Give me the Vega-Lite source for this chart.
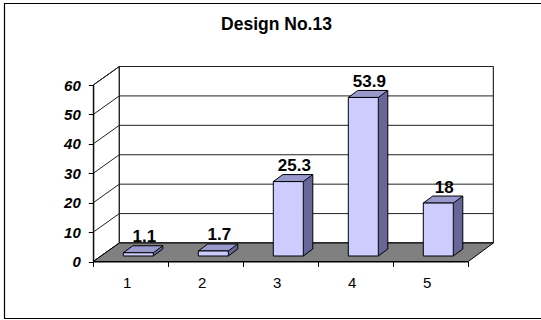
{
  "$schema": "https://vega.github.io/schema/vega-lite/v6.json",
  "width": 537,
  "height": 316,
  "autosize": {"type": "none"},
  "padding": {"left": 4, "top": 3, "right": 0, "bottom": 1},
  "background": "white",
  "view": {"stroke": null, "fill": "white"},
  "config": {"font": "Liberation Sans"},
  "title": {"text": "Design No.13", "font": "Liberation Sans", "fontSize": 17.5, "fontWeight": "bold", "color": "black", "anchor": "middle", "frame": "group", "baseline": "alphabetic", "offset": -46, "dx": 4},
  "datasets": {
    "bars": [
      {"cat": "1", "value": 1.1},
      {"cat": "2", "value": 1.7},
      {"cat": "3", "value": 25.3},
      {"cat": "4", "value": 53.9},
      {"cat": "5", "value": 18}
    ],
    "ticks": [{"t": 0}, {"t": 10}, {"t": 20}, {"t": 30}, {"t": 40}, {"t": 50}, {"t": 60}],
    "one": [{"k": 1}]
  },
  "layer": [
    {
      "data": {"name": "one"},
      "mark": {"type": "point", "shape": "M414,-258L-126.3,-258L-126.3,57L414,57", "size": 4, "filled": false, "stroke": "black", "strokeWidth": 1.2, "opacity": 1},
      "encoding": {
        "x": {"datum": "1", "type": "nominal", "title": null},
        "y": {"datum": 0, "type": "quantitative", "title": null}
      }
    },
    {
      "data": {"name": "one"},
      "mark": {"type": "point", "shape": "M-37.5,0L-37.5,-176.5L-11.5,-195L-11.5,-18.5Z", "size": 4, "filled": true, "fill": "white", "stroke": "black", "strokeWidth": 1, "opacity": 1},
      "encoding": {
        "x": {"datum": "1", "type": "nominal", "title": null},
        "y": {"datum": 0, "type": "quantitative", "title": null}
      }
    },
    {
      "data": {"name": "one"},
      "mark": {"type": "point", "shape": "M-11.5,-18.5L-11.5,-195L362.5,-195L362.5,-18.5Z", "size": 4, "filled": true, "fill": "white", "stroke": "black", "strokeWidth": 1, "opacity": 1},
      "encoding": {
        "x": {"datum": "1", "type": "nominal", "title": null},
        "y": {"datum": 0, "type": "quantitative", "title": null}
      }
    },
    {
      "data": {"name": "ticks"},
      "mark": {"type": "rule", "color": "#222222", "strokeWidth": 1, "xOffset": -11.5, "x2Offset": 62.5, "yOffset": -18.5},
      "encoding": {
        "x": {"datum": "1", "type": "nominal", "title": null},
        "x2": {"datum": "5"},
        "y": {"field": "t", "type": "quantitative", "title": null}
      }
    },
    {
      "data": {"name": "ticks"},
      "mark": {"type": "rule", "color": "#222222", "strokeWidth": 1, "xOffset": -37.5, "x2Offset": -11.5, "y2Offset": -18.5},
      "encoding": {
        "x": {"datum": "1", "type": "nominal", "title": null},
        "x2": {"datum": "1"},
        "y": {"field": "t", "type": "quantitative", "title": null},
        "y2": {"field": "t"}
      }
    },
    {
      "data": {"name": "one"},
      "mark": {"type": "point", "shape": "M-37.5,0L337.5,0L362.5,-18.5L-11.5,-18.5Z", "size": 4, "filled": true, "fill": "#808080", "stroke": "black", "strokeWidth": 1, "opacity": 1},
      "encoding": {
        "x": {"datum": "1", "type": "nominal", "title": null},
        "y": {"datum": 0, "type": "quantitative", "title": null}
      }
    },
    {
      "data": {"name": "bars"},
      "mark": {"type": "bar", "width": 9.5, "xOffset": 27.25, "yOffset": -12.5, "y2Offset": -5.5, "fill": "#666699", "stroke": null},
      "encoding": {
        "x": {"field": "cat", "type": "nominal", "title": null},
        "y": {"field": "value", "type": "quantitative", "title": null},
        "y2": {"datum": 0}
      }
    },
    {
      "data": {"name": "bars"},
      "mark": {"type": "point", "shape": "M22.5,-5.5L32.5,-5.5L32.5,-12.5Z", "size": 4, "filled": true, "fill": "#808080", "strokeWidth": 0, "opacity": 1},
      "encoding": {
        "x": {"field": "cat", "type": "nominal", "title": null},
        "y": {"datum": 0, "type": "quantitative", "title": null}
      }
    },
    {
      "data": {"name": "bars"},
      "mark": {"type": "point", "shape": "M22.5,-5.5L32,-12.5", "size": 4, "filled": false, "stroke": "black", "strokeWidth": 1, "opacity": 1},
      "encoding": {
        "x": {"field": "cat", "type": "nominal", "title": null},
        "y": {"datum": 0, "type": "quantitative", "title": null}
      }
    },
    {
      "data": {"name": "bars"},
      "mark": {"type": "rule", "color": "black", "strokeWidth": 1, "xOffset": 32, "yOffset": -12.5, "y2Offset": -12.5},
      "encoding": {
        "x": {"field": "cat", "type": "nominal", "title": null},
        "y": {"field": "value", "type": "quantitative", "title": null},
        "y2": {"datum": 0}
      }
    },
    {
      "data": {"name": "bars"},
      "mark": {"type": "point", "shape": "M-7.5,-5.5L22.5,-5.5L32,-12.5L2,-12.5Z", "size": 4, "filled": true, "fill": "#9999CC", "stroke": "black", "strokeWidth": 1, "opacity": 1},
      "encoding": {
        "x": {"field": "cat", "type": "nominal", "title": null},
        "y": {"field": "value", "type": "quantitative", "title": null}
      }
    },
    {
      "data": {"name": "bars"},
      "mark": {"type": "bar", "width": 30, "xOffset": 7.5, "yOffset": -5.5, "y2Offset": -5.5, "fill": "#CCCCFF", "stroke": "black", "strokeWidth": 1},
      "encoding": {
        "x": {
          "field": "cat", "type": "nominal", "title": null,
          "scale": {"type": "band", "domain": ["1", "2", "3", "4", "5"], "range": [89.3, 464.3], "paddingInner": 0, "paddingOuter": 0},
          "axis": {"orient": "bottom", "offset": -57.5, "tickBand": "extent", "tickSize": 5, "tickColor": "black", "domainColor": "black", "labelColor": "black", "labelFont": "Liberation Sans", "labelFontSize": 15, "labelPadding": 16, "labelAngle": 0, "grid": false, "zindex": 1, "title": null}
        },
        "y": {
          "field": "value", "type": "quantitative", "title": null,
          "scale": {"domain": [0, 60], "range": [258.5, 82], "nice": false, "zero": true},
          "axis": {"orient": "left", "offset": -89.3, "values": [0, 10, 20, 30, 40, 50, 60], "tickSize": 5, "tickColor": "black", "domainColor": "black", "labelColor": "black", "labelFont": "Liberation Sans", "labelFontSize": 15, "labelFontWeight": "bold", "labelFontStyle": "italic", "labelPadding": 8, "grid": false, "zindex": 1, "title": null}
        },
        "y2": {"datum": 0}
      }
    },
    {
      "data": {"name": "bars"},
      "mark": {"type": "text", "dx": 13.5, "dy": -16, "baseline": "alphabetic", "align": "center", "font": "Liberation Sans", "fontSize": 17, "fontWeight": "bold", "color": "black"},
      "encoding": {
        "x": {"field": "cat", "type": "nominal", "title": null},
        "y": {"field": "value", "type": "quantitative", "title": null},
        "text": {"field": "value", "type": "quantitative"}
      }
    }
  ]
}
